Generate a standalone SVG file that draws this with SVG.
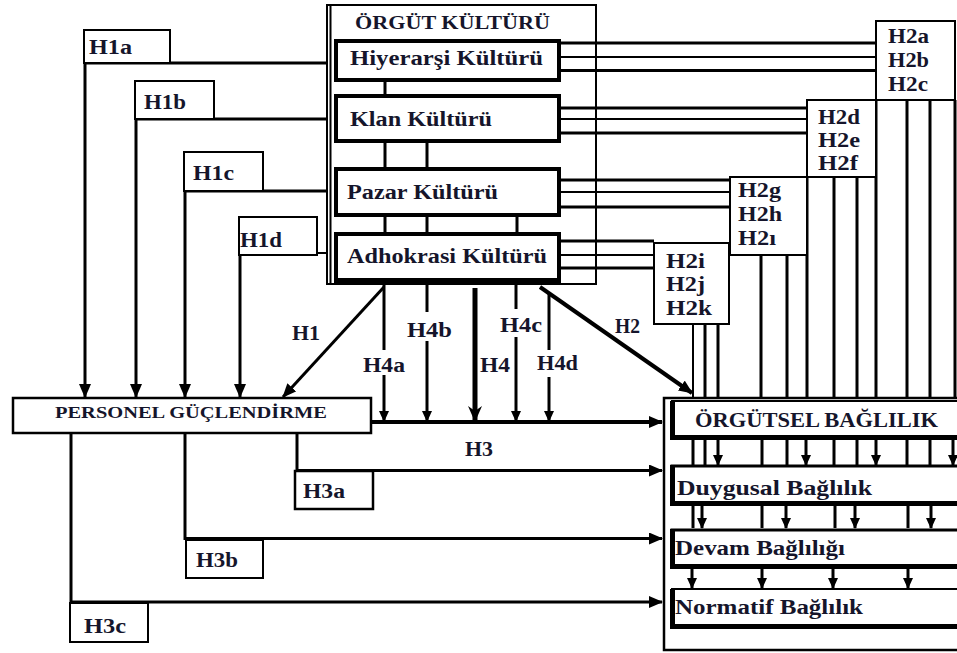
<svg xmlns="http://www.w3.org/2000/svg" width="957" height="653" viewBox="0 0 957 653">
<style>
text{font-family:"Liberation Serif","Times New Roman",serif;font-weight:bold;fill:#15152b;}
.t19{font-size:20px;}
.t18{font-size:19px;}
.t16{font-size:16px;}
.lbl{fill:#fff;stroke:#000;stroke-width:2;}
.ibox{fill:#fff;stroke:#000;stroke-width:4;}
.ln{fill:none;stroke:#000;stroke-width:3;}
.l2{fill:none;stroke:#000;stroke-width:2;}
.th{fill:none;stroke:#000;stroke-width:5;}
.ar{marker-end:url(#ah);}
.as{marker-end:url(#ahs);}
</style>
<defs>
<marker id="ah" markerUnits="userSpaceOnUse" markerWidth="14" markerHeight="12" refX="13" refY="6" orient="auto"><path d="M0,0 L14,6 L0,12 z" fill="#000"/></marker>
<marker id="ahs" markerUnits="userSpaceOnUse" markerWidth="11" markerHeight="10" refX="10" refY="5" orient="auto"><path d="M0,0 L11,5 L0,10 z" fill="#000"/></marker>
<marker id="ahv" markerUnits="userSpaceOnUse" markerWidth="16" markerHeight="14" refX="15" refY="7" orient="auto"><path d="M0,0 L16,7 L0,14 L5,7 z" fill="#000"/></marker>
</defs>
<rect width="957" height="653" fill="#fff"/>

<g id="connectors">
  <path class="ln" d="M84,63 H327"/>
  <path class="ln ar" d="M85,63 V397"/>
  <path class="ln" d="M135,119 H327"/>
  <path class="ln ar" d="M136,119 V397"/>
  <path class="ln" d="M184,191 H327"/>
  <path class="ln ar" d="M185,191 V397"/>
  <path class="l2" d="M317,253 H327"/>
  <path class="ln ar" d="M240,255 V397"/>
  <path class="ln" d="M385,82 V94 M385,143 V167 M427,143 V167 M385,217 V232 M427,217 V232 M517,217 V232"/>
  <path class="ln" d="M561,43 H876 M561,70.5 H876"/>
  <path class="l2" d="M561,57 H876"/>
  <path class="ln" d="M561,108 H807 M561,133 H807"/>
  <path class="l2" d="M561,119 H807"/>
  <path class="ln" d="M561,180 H730 M561,207 H730"/>
  <path class="l2" d="M561,192 H730"/>
  <path class="ln" d="M561,241 H654 M561,268 H654"/>
  <path class="l2" d="M561,255 H654"/>
  <path class="ln" d="M876,100 V398 M907,100 V398 M930,100 V398 M955,100 V398"/>
  <path class="ln" d="M807,177 V398 M834,177 V398 M857,177 V398"/>
  <path class="ln" d="M761,255 V398 M787,255 V398"/>
  <path class="l2" d="M693,324 V398"/>
  <path class="ln" d="M705,324 V398 M718,324 V398"/>
  <path class="ln ar" d="M384,287 L283,397"/>
  <path class="ln ar" style="stroke-width:4" d="M540,287 L692,393"/>
  <path class="ln" d="M384,284 V350"/>
  <path class="ln as" d="M384,375 V421"/>
  <path class="ln" d="M427,284 V312"/>
  <path class="ln as" d="M427,341 V421"/>
  <path class="th" marker-end="url(#ahv)" d="M475,288 V421"/>
  <path class="ln" d="M516,284 V309"/>
  <path class="ln as" d="M516,337 V421"/>
  <path class="ln" d="M549,292 V350"/>
  <path class="ln as" d="M549,377 V421"/>
  <path class="ln ar" style="stroke-width:4" d="M371,422 H662"/>
  <path class="ln" d="M297,433 V471"/>
  <path class="ln ar" d="M296,470.5 H662"/>
  <path class="ln" d="M185,433 V540"/>
  <path class="ln ar" d="M184,538.5 H662"/>
  <path class="ln" d="M71,433 V603"/>
  <path class="ln ar" d="M70,602 H662"/>
  <path class="ln" d="M693,438 V465 M705,438 V465 M762,438 V465 M787,438 V465 M834,438 V465 M857,438 V465 M907,438 V465 M930,438 V465"/>
  <path class="ln as" d="M718,438 V465"/>
  <path class="ln as" d="M806,438 V465"/>
  <path class="ln as" d="M876,438 V465"/>
  <path class="ln as" d="M953,438 V465"/>
  <path class="ln" d="M693,505 V528 M762,505 V528 M835,505 V528 M908,505 V528"/>
  <path class="ln as" d="M702,505 V528"/>
  <path class="ln as" d="M786,505 V528"/>
  <path class="ln as" d="M855,505 V528"/>
  <path class="ln as" d="M931,505 V528"/>
  <path class="ln as" d="M692,568 V588"/>
  <path class="ln as" d="M762,568 V588"/>
  <path class="ln as" d="M833,568 V588"/>
  <path class="ln as" d="M908,568 V588"/>
</g>

<g id="orgut-kulturu">
  <rect x="327" y="5" width="269" height="279" fill="none" stroke="#000" stroke-width="2"/>
  <path class="l2" d="M330.5,5 V284"/>
  <text class="t18" x="355" y="29" textLength="195" lengthAdjust="spacingAndGlyphs">ÖRGÜT KÜLTÜRÜ</text>
</g>
<g id="hiyerarsi">
  <rect class="ibox" x="336" y="41" width="223" height="39"/>
  <text class="t19" x="350" y="65" textLength="193" lengthAdjust="spacingAndGlyphs">Hiyerarşi Kültürü</text>
</g>
<g id="klan">
  <rect class="ibox" x="336" y="96" width="223" height="45"/>
  <text class="t19" x="350" y="126" textLength="142" lengthAdjust="spacingAndGlyphs">Klan Kültürü</text>
</g>
<g id="pazar">
  <rect class="ibox" x="336" y="169" width="223" height="46"/>
  <text class="t19" x="347" y="199" textLength="151" lengthAdjust="spacingAndGlyphs">Pazar Kültürü</text>
</g>
<g id="adhokrasi">
  <rect class="ibox" x="336" y="234" width="223" height="46"/>
  <path class="th" d="M334,281 H561"/>
  <text class="t19" x="347" y="263" textLength="200" lengthAdjust="spacingAndGlyphs">Adhokrasi Kültürü</text>
</g>

<g id="H1a"><rect class="lbl" x="84" y="30" width="86" height="33"/><text class="t19" x="89" y="54" textLength="43" lengthAdjust="spacingAndGlyphs">H1a</text></g>
<g id="H1b"><rect class="lbl" x="135" y="81" width="79" height="38"/><text class="t19" x="144" y="109" textLength="42" lengthAdjust="spacingAndGlyphs">H1b</text></g>
<g id="H1c"><rect class="lbl" x="184" y="152" width="79" height="39"/><text class="t19" x="193" y="180" textLength="41" lengthAdjust="spacingAndGlyphs">H1c</text></g>
<g id="H1d"><rect class="lbl" x="239" y="217" width="78" height="38"/><text class="t19" x="240" y="247" textLength="42" lengthAdjust="spacingAndGlyphs">H1d</text></g>

<g id="H2abc"><rect class="lbl" x="876" y="21" width="79" height="79"/>
  <text class="t19" x="888" y="43" textLength="41" lengthAdjust="spacingAndGlyphs">H2a</text>
  <text class="t19" x="888" y="67" textLength="41" lengthAdjust="spacingAndGlyphs">H2b</text>
  <text class="t19" x="888" y="91" textLength="40" lengthAdjust="spacingAndGlyphs">H2c</text></g>
<g id="H2def"><rect class="lbl" x="807" y="100" width="69" height="77"/>
  <text class="t19" x="818" y="124" textLength="42" lengthAdjust="spacingAndGlyphs">H2d</text>
  <text class="t19" x="818" y="147" textLength="42" lengthAdjust="spacingAndGlyphs">H2e</text>
  <text class="t19" x="818" y="170" textLength="40" lengthAdjust="spacingAndGlyphs">H2f</text></g>
<g id="H2ghi"><rect class="lbl" x="730" y="177" width="77" height="78"/>
  <text class="t19" x="738" y="197" textLength="43" lengthAdjust="spacingAndGlyphs">H2g</text>
  <text class="t19" x="738" y="221" textLength="44" lengthAdjust="spacingAndGlyphs">H2h</text>
  <text class="t19" x="738" y="245" textLength="38" lengthAdjust="spacingAndGlyphs">H2ı</text></g>
<g id="H2ijk"><rect class="lbl" x="654" y="243" width="75" height="81"/>
  <text class="t19" x="666" y="268" textLength="39" lengthAdjust="spacingAndGlyphs">H2i</text>
  <text class="t19" x="666" y="291" textLength="39" lengthAdjust="spacingAndGlyphs">H2j</text>
  <text class="t19" x="666" y="315" textLength="46" lengthAdjust="spacingAndGlyphs">H2k</text></g>

<g id="edge-labels">
  <text class="t19" x="292" y="340" textLength="28" lengthAdjust="spacingAndGlyphs">H1</text>
  <text class="t19" x="615" y="333" textLength="25" lengthAdjust="spacingAndGlyphs">H2</text>
  <text class="t19" x="465" y="456" textLength="28" lengthAdjust="spacingAndGlyphs">H3</text>
  <text class="t19" x="363" y="372" textLength="42" lengthAdjust="spacingAndGlyphs">H4a</text>
  <text class="t19" x="407" y="337" textLength="45" lengthAdjust="spacingAndGlyphs">H4b</text>
  <text class="t19" x="480" y="372" textLength="30" lengthAdjust="spacingAndGlyphs">H4</text>
  <text class="t19" x="500" y="332" textLength="42" lengthAdjust="spacingAndGlyphs">H4c</text>
  <text class="t19" x="537" y="370" textLength="41" lengthAdjust="spacingAndGlyphs">H4d</text>
</g>

<g id="personel">
  <rect x="13" y="398" width="358" height="35" fill="#fff" stroke="#000" stroke-width="2.5"/>
  <text class="t16" x="55" y="418" textLength="272" lengthAdjust="spacingAndGlyphs">PERSONEL GÜÇLENDİRME</text>
</g>

<g id="H3a"><rect class="lbl" x="295" y="471" width="78" height="38" style="stroke-width:2.5"/><text class="t19" x="303" y="498" textLength="42" lengthAdjust="spacingAndGlyphs">H3a</text></g>
<g id="H3b"><rect class="lbl" x="186" y="540" width="77" height="38"/><text class="t19" x="196" y="567" textLength="42" lengthAdjust="spacingAndGlyphs">H3b</text></g>
<g id="H3c"><rect class="lbl" x="70" y="603" width="78" height="39"/><text class="t19" x="84" y="633" textLength="42" lengthAdjust="spacingAndGlyphs">H3c</text></g>

<g id="orgutsel-baglilik">
  <rect x="664" y="398" width="300" height="252" fill="none" stroke="#000" stroke-width="2.5"/>
  <rect x="672" y="401" width="292" height="37" fill="#fff" stroke="#000" stroke-width="2"/>
  <path class="th" d="M672.5,401 V437.5 H960"/>
  <text class="t19" x="695" y="427" textLength="243" lengthAdjust="spacingAndGlyphs">ÖRGÜTSEL BAĞLILIK</text>
</g>
<g id="duygusal">
  <rect x="672" y="466" width="292" height="38" fill="#fff" stroke="#000" stroke-width="3"/>
  <path class="th" d="M672.5,465 V503.5 H960"/>
  <text class="t19" x="677" y="495" textLength="195" lengthAdjust="spacingAndGlyphs">Duygusal Bağlılık</text>
</g>
<g id="devam">
  <rect x="672" y="530" width="292" height="37" fill="#fff" stroke="#000" stroke-width="3"/>
  <path class="th" d="M672.5,529 V566.5 H960"/>
  <text class="t19" x="675" y="555" textLength="170" lengthAdjust="spacingAndGlyphs">Devam Bağlılığı</text>
</g>
<g id="normatif">
  <rect x="672" y="589" width="292" height="38" fill="#fff" stroke="#000" stroke-width="2"/>
  <path class="th" d="M672.5,589 V626.5 H960"/>
  <text class="t19" x="675" y="614" textLength="188" lengthAdjust="spacingAndGlyphs">Normatif Bağlılık</text>
</g>
</svg>
